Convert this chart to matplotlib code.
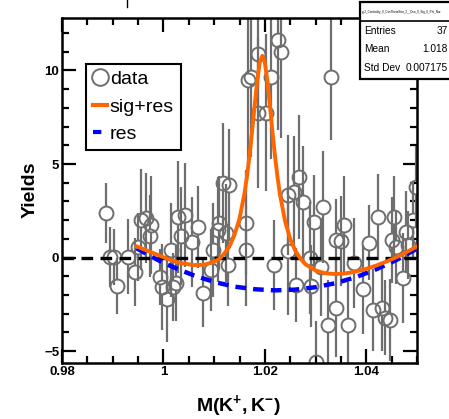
import matplotlib
matplotlib.use('Agg')
import matplotlib.pyplot as plt
from matplotlib.lines import Line2D
from matplotlib.patches import Rectangle
from matplotlib.ticker import MultipleLocator, FixedLocator, FixedFormatter

plt.rcParams['font.family'] = ['Liberation Sans', 'DejaVu Sans']
plt.rcParams['mathtext.fontset'] = 'custom'
plt.rcParams['mathtext.bf'] = 'Liberation Sans:bold'
plt.rcParams['mathtext.rm'] = 'Liberation Sans'

# --- data points (mass, yield, error) ---
mass = [0.9887, 0.9895, 0.9903, 0.9909, 0.9931, 0.9943, 0.9949, 0.9956, 0.9966, 0.9976,
        0.9974, 0.9994, 0.9998, 1.0008, 1.0018, 1.0014, 1.0028, 1.0042, 1.0034, 1.0024,
        1.0057, 1.0069, 1.0079, 1.0093, 1.0097, 1.0107, 1.0109, 1.0117, 1.0129, 1.0123,
        1.0127, 1.0162, 1.0162, 1.0166, 1.0172, 1.0186, 1.0186, 1.0202, 1.0212, 1.0226,
        1.0232, 1.0218, 1.0245, 1.0245, 1.0257, 1.0267, 1.0275, 1.0261, 1.0291, 1.0289,
        1.0297, 1.0315, 1.0311, 1.0301, 1.0325, 1.0341, 1.0364, 1.0331, 1.0341, 1.0350,
        1.0356, 1.0376, 1.0394, 1.0406, 1.0414, 1.0424, 1.0430, 1.0436, 1.0446, 1.0450,
        1.0455, 1.0459, 1.0473, 1.0479, 1.0483, 1.0493, 1.0499]
yields = [2.39, 0.04, 0.04, -1.51, 0.04, -0.76, 0.57, 2.02, 2.12, 1.75,
          1.16, -1.03, -1.57, -2.20, -1.57, 0.41, 2.18, 2.28, 1.16, -1.36,
          0.84, 1.64, -1.90, -0.66, 0.41, 1.48, 1.86, 3.99, 3.89, 1.32,
          -0.39, 0.41, 1.86, 9.50, 9.66, 10.90, 7.74, 7.74, 9.66, 11.64,
          11.00, -0.39, 0.36, 3.35, 3.51, 4.32, 2.98, -1.46, -1.50, -0.02,
          1.91, 2.71, -0.50, -5.57, -3.60, -2.69, -3.60, 9.66, 0.95, 0.89,
          1.75, -0.28, -1.70, 0.79, -2.80, 2.18, -2.69, -3.22, -3.33, 0.95,
          2.18, 0.57, -1.09, 1.38, 0.68, 2.02, 3.78]
errors = [1.6, 1.6, 1.5, 1.5, 2.0, 1.8, 1.8, 2.7, 2.4, 2.6,
          2.2, 1.5, 2.3, 2.3, 1.8, 2.5, 3.0, 2.8, 2.6, 2.0,
          2.4, 2.2, 1.8, 2.2, 2.5, 2.8, 2.5, 3.2, 3.0, 2.6,
          2.2, 3.0, 2.8, 4.5, 4.3, 4.6, 4.0, 4.2, 4.4, 4.8,
          4.6, 2.4, 3.4, 3.2, 3.0, 3.3, 3.0, 2.0, 2.2, 3.0,
          2.5, 3.0, 2.6, 2.2, 2.4, 2.6, 2.3, 3.4, 2.2, 2.4,
          2.6, 2.4, 2.4, 2.0, 2.2, 2.3, 2.3, 2.0, 2.2, 2.3,
          2.2, 2.0, 2.4, 2.2, 1.8, 2.0, 2.2]

# --- fit curves ---
fit_x = [0.9947, 0.997, 1.000, 1.003, 1.006, 1.008, 1.010, 1.011, 1.012, 1.013,
         1.014, 1.015, 1.016, 1.0165, 1.017, 1.0175, 1.018, 1.0185, 1.019, 1.0195,
         1.020, 1.0205, 1.021, 1.0215, 1.022, 1.0225, 1.023, 1.024, 1.025, 1.026,
         1.027, 1.028, 1.030, 1.032, 1.034, 1.036, 1.038, 1.040, 1.042, 1.044,
         1.046, 1.048, 1.050]
fit_y = [0.60, 0.35, 0.02, -0.27, -0.40, -0.38, -0.22, -0.07, 0.22, 0.59,
         1.20, 2.08, 3.46, 4.39, 5.51, 6.79, 8.17, 9.47, 10.42, 10.78,
         10.41, 9.43, 8.12, 6.72, 5.42, 4.29, 3.34, 1.93, 1.00, 0.37,
         -0.05, -0.36, -0.69, -0.84, -0.88, -0.84, -0.74, -0.60, -0.42, -0.21,
         0.03, 0.30, 0.60]
res_x = [0.9947, 0.998, 1.000, 1.003, 1.006, 1.010, 1.014, 1.018, 1.022, 1.026,
         1.030, 1.034, 1.038, 1.042, 1.046, 1.050]
res_y = [0.50, 0.00, -0.28, -0.63, -0.95, -1.30, -1.55, -1.69, -1.75, -1.71,
         -1.58, -1.36, -1.04, -0.62, -0.12, 0.48]

stat_labels = ['Entries', 'Mean', 'Std Dev']
stat_values = ['37', '1.018', '0.007175']
stat_title = 'p_2_Centrality_0_CosThetaStar_2__Dca_0_Sig_0_Phi_Nor'

gray = '#6e6e6e'
marker_size = 10  # points

fig = plt.figure(figsize=(4.49, 4.19), dpi=100)
ax = fig.add_axes([62 / 449, 56 / 419, 355 / 449, 345 / 419])

ax.set_xlim(0.98, 1.05)
ax.set_ylim(-5.63, 12.8)

# --- data: error bars stop at the marker edge, markers hollow ---
px_per_unit = ax.transData.transform((0, 1))[1] - ax.transData.transform((0, 0))[1]
gap = (marker_size / 2) * fig.dpi / 72 / px_per_unit
for x, y, e in zip(mass, yields, errors):
    if e > gap:
        ax.vlines([x, x], [y - e, y + gap], [y - gap, y + e], color=gray, lw=1.6, zorder=2)
ax.plot(mass, yields, ls='none', marker='o', ms=marker_size, mfc='none',
        mec=gray, mew=1.4, zorder=2)

# --- zero line ---
ax.axhline(0, color='black', lw=2.4, dashes=(3.5, 2.2), zorder=3)

# --- fits ---
ax.plot(res_x, res_y, color='#0000ff', lw=3.2, dashes=(2.4, 1.6), zorder=4)
ax.plot(fit_x, fit_y, color='#ff6600', lw=2.8, zorder=5)

ax.xaxis.set_major_locator(FixedLocator([0.98, 1.0, 1.02, 1.04]))
ax.xaxis.set_major_formatter(FixedFormatter(['0.98', '1', '1.02', '1.04']))
ax.xaxis.set_minor_locator(MultipleLocator(0.005))
ax.yaxis.set_major_locator(FixedLocator([-5, 0, 5, 10]))
ax.yaxis.set_major_formatter(FixedFormatter(['\u22125', '0', '5', '10']))
ax.yaxis.set_minor_locator(MultipleLocator(1))

ax.tick_params(which='both', direction='in', top=True, right=True, width=1.6)
ax.tick_params(which='major', length=10, labelsize=9.5, pad=2)
ax.tick_params(which='minor', length=5)
for lab in ax.get_xticklabels() + ax.get_yticklabels():
    lab.set_fontweight('bold')
for sp in ax.spines.values():
    sp.set_linewidth(1.8)

# --- legend ---
handles = [
    Line2D([], [], marker='o', ms=12, mfc='white', mec=gray, mew=1.4, ls='none'),
    Line2D([], [], color='#ff6600', lw=3),
    Line2D([], [], color='#0000ff', lw=3, dashes=(2.0, 1.5)),
]
leg = ax.legend(handles, ['data', 'sig+res', 'res'], loc='upper left',
                bbox_to_anchor=(0.0676, 0.867), fontsize=14, frameon=True,
                fancybox=False, edgecolor='black', framealpha=1,
                handlelength=0.75, handletextpad=0.12, borderpad=0.35,
                labelspacing=0.5, borderaxespad=0)
leg.get_frame().set_linewidth(1.5)

# --- axis titles ---
fig.text(30 / 449, 1 - 190 / 419, 'Yields', rotation=90, ha='center', va='center',
         fontsize=14, fontweight='bold')
fig.text(238 / 449, 8 / 419, r'$\mathbf{M(K^{+},K^{-})}$', ha='center',
         va='baseline', fontsize=14)

# --- stats box ---
fig.patches.append(Rectangle((360 / 449, 1 - 79 / 419), 0.3, 77 / 419,
                             transform=fig.transFigure, facecolor='white',
                             edgecolor='black', lw=1.6, zorder=10))
fig.add_artist(Line2D([360 / 449, 1], [1 - 21 / 419, 1 - 21 / 419],
                      color='black', lw=1.2, zorder=11))
fig.text(362 / 449, 1 - 12 / 419, stat_title, fontsize=2.2, ha='left', va='center',
         zorder=12)
for i, (lab, val) in enumerate(zip(stat_labels, stat_values)):
    yy = 1 - (31 + i * 18.5) / 419
    fig.text(364 / 449, yy, lab, fontsize=7.3, ha='left', va='center', zorder=12)
    fig.text(448 / 449, yy, val, fontsize=7.3, ha='right', va='center', zorder=12)

# small mark above the frame
fig.add_artist(Line2D([127 / 449, 127 / 449], [1, 1 - 7 / 419], color='black', lw=1.0))

fig.savefig('out.png', dpi=100)
